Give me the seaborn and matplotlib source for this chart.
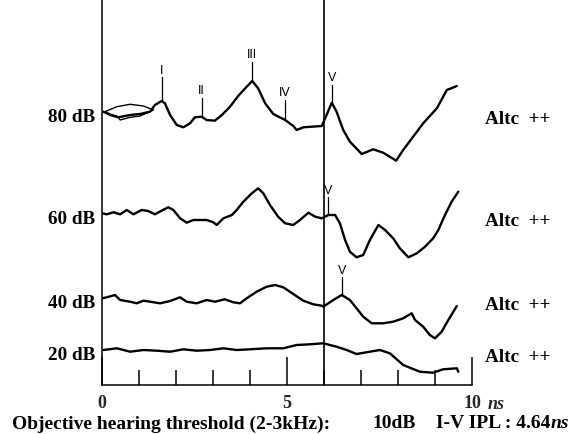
import numpy as np
import pandas as pd
import matplotlib
matplotlib.use("Agg")
import matplotlib.pyplot as plt
import seaborn as sns

# ---------------- data ----------------
# time in ns, amplitude in arbitrary display units relative to each trace baseline
t80 = [0.04, 0.22, 0.44, 0.76, 1.03, 1.30, 1.43, 1.61, 1.70, 1.84, 2.02, 2.20, 2.38, 2.51,
       2.69, 2.83, 3.05, 3.24, 3.46, 3.68, 3.91, 4.06, 4.22, 4.41, 4.63, 4.95, 5.17, 5.26,
       5.44, 5.67, 5.94, 6.07, 6.21, 6.34, 6.52, 6.70, 7.02, 7.33, 7.60, 7.95, 8.14, 8.41,
       8.68, 9.05, 9.32, 9.59]
a80 = [0.3, -3, -5.3, -3, -2, 0.3, 7, 11, 8.7, -3, -13, -15.3, -11.3, -5.3,
       -4.7, -8, -8.7, -3, 5.3, 16, 25.3, 31, 23.7, 8.7, -2, -8, -14, -18,
       -15.3, -14.7, -14, -3, 9.3, 0.3, -18, -29.7, -42, -37.3, -40.7, -48.7, -38, -24.7,
       -11.3, 3.7, 22, 26]
# replicate (superimposed) sweep at the start of the 80 dB trace
t80r = [0.08, 0.40, 0.76, 1.12, 1.39, 1.03, 0.76, 0.49, 0.44, 0.22, 0.08]
a80r = [0.3, 5.3, 7.7, 6, 2, -4, -5.3, -8, -4.7, -2, 0.3]

t60 = [0.00, 0.13, 0.31, 0.49, 0.67, 0.85, 1.07, 1.25, 1.43, 1.61, 1.79, 1.93, 2.11, 2.29,
       2.47, 2.83, 3.01, 3.10, 3.28, 3.51, 3.64, 3.82, 4.05, 4.22, 4.36, 4.54, 4.76, 4.95,
       5.17, 5.35, 5.58, 5.76, 5.94, 6.12, 6.30, 6.43, 6.57, 6.70, 6.88, 7.06, 7.24, 7.47,
       7.65, 7.87, 8.05, 8.28, 8.51, 8.73, 8.95, 9.09, 9.27, 9.45, 9.63]
a60 = [0.7, -0.3, 1.7, -0.3, 4, -0.3, 4, 3, -0.3, 3.3, 6.7, 4, -4.3, -8.7,
       -6, -6, -8.3, -11, -4.3, -1, 4, 12.3, 20.7, 25.7, 20.7, 9, -2.7, -9.3,
       -11, -6, 1.3, -2.7, -4.3, -1, -1, -9.3, -26, -37.7, -43.3, -41, -26, -11,
       -16, -24.3, -34.3, -43.3, -39.3, -32.7, -24.3, -16, -1, 12.3, 22.3]

t40 = [0.00, 0.13, 0.35, 0.49, 0.76, 0.94, 1.12, 1.30, 1.57, 1.84, 2.11, 2.29, 2.56, 2.83,
       3.05, 3.32, 3.55, 3.73, 3.91, 4.18, 4.45, 4.68, 4.90, 5.17, 5.44, 5.71, 5.94, 5.98,
       6.25, 6.48, 6.70, 6.88, 7.06, 7.29, 7.60, 7.87, 8.14, 8.37, 8.46, 8.68, 8.86, 9.00,
       9.18, 9.36, 9.59]
a40 = [-0.3, 0.7, 3, -2, -3.7, -5.3, -2.7, -3.7, -5.3, -3, 0.7, -3.7, -5.3, -2,
       -3.7, -1.3, -4.3, -5.3, -0.3, 6.3, 11.3, 13, 10.7, 4, -2.7, -6.3, -7.7, -8.7,
       -2, 3, -2, -10.3, -18.7, -25.3, -25.3, -23.7, -20.3, -15.3, -22, -28.7, -37, -40.3,
       -33.7, -22, -8]

t20 = [0.04, 0.40, 0.76, 1.12, 1.48, 1.84, 2.20, 2.56, 2.92, 3.28, 3.64, 4.00, 4.45, 4.90,
       5.26, 5.62, 5.98, 6.34, 6.61, 6.88, 7.24, 7.51, 7.78, 8.14, 8.59, 8.95, 9.22, 9.59, 9.63]
a20 = [0, 1.7, -1.7, 0, -0.7, -1.7, 0.7, -0.7, 0, 1.7, 0, 0.7, 1.7, 1.7,
       5, 5.7, 6.7, 3.3, 0, -4, -1.7, 0, -3.3, -15, -21.7, -22.7, -19.3, -18.3, -21.7]

levels = ["80 dB", "60 dB", "40 dB", "20 dB"]
stim_labels = ["Altc  ++", "Altc  ++", "Altc  ++", "Altc  ++"]

# wave labels (level, label, latency ns)
wave_level = ["80 dB", "80 dB", "80 dB", "80 dB", "80 dB", "60 dB", "40 dB"]
wave_names = ["I", "II", "III", "IV", "V", "V", "V"]
wave_lat = [1.61, 2.69, 4.06, 4.95, 6.21, 6.12, 6.48]

ref_latency = 6.0
xtick_major = [0, 5, 10]
xtick_minor = [1, 2, 3, 4, 6, 7, 8, 9]
xtick_labels = ["0", "5", "10"]
x_unit = "ns"
footer_parts = ["Objective hearing threshold (2-3kHz):", "10dB", "I-V IPL : 4.64", "ns"]

# ---------------- layout ----------------
baseline = {"80 dB": 273, "60 dB": 171, "40 dB": 87, "20 dB": 35}
tick_len = {"I": 24, "II": 19, "III": 19, "IV": 20, "V": 18}
footer_x = [12, 372, 436, None]

sns.set_theme(style="white")
serif = ["Liberation Serif", "DejaVu Serif"]
plt.rcParams["font.family"] = serif

fig = plt.figure(figsize=(5.77, 4.34), dpi=100)
ax = fig.add_axes([102 / 577, 49 / 434, 370 / 577, 385 / 434])

traces = {"80 dB": (t80, a80), "60 dB": (t60, a60), "40 dB": (t40, a40), "20 dB": (t20, a20)}
rows = []
for lev, (tt, aa) in traces.items():
    for t, a in zip(tt, aa):
        rows.append({"t": t, "v": a + baseline[lev], "level": lev})
df = pd.DataFrame(rows)
sns.lineplot(data=df, x="t", y="v", hue="level", palette=["black"] * 4, sort=False,
             estimator=None, linewidth=1.7, legend=False, ax=ax)
rep = pd.DataFrame({"t": t80r, "v": np.array(a80r) + baseline["80 dB"]})
sns.lineplot(data=rep, x="t", y="v", color="black", sort=False, estimator=None,
             linewidth=1.0, ax=ax)

ax.axvline(ref_latency, color="black", linewidth=1.2)

# wave markers
for lev, name, lat in zip(wave_level, wave_names, wave_lat):
    tt, aa = traces[lev]
    y0 = np.interp(lat, tt, aa) + baseline[lev]
    y1 = y0 + tick_len[name]
    ax.plot([lat, lat], [y0, y1], color="black", linewidth=0.9)
    ax.text(lat, y1 + 0.5, name, ha="center", va="bottom", fontsize=9,
            family=["Liberation Sans Narrow", "Liberation Sans", "DejaVu Sans"],
            color="black")

# level labels and stimulus labels
for lev, st in zip(levels, stim_labels):
    ax.text(-0.19, baseline[lev] - 6, lev, ha="right", va="center", fontsize=13.8,
            fontweight="bold", color="black")
    ax.text(10.35, baseline[lev] - 7, st, ha="left", va="center", fontsize=13.8,
            fontweight="bold", color="black")

ax.set_xlim(0, 10)
ax.set_ylim(0, 385)
ax.set_xlabel("")
ax.set_ylabel("")
ax.set_yticks([])
ax.set_xticks(xtick_major)
ax.set_xticks(xtick_minor, minor=True)
ax.set_xticklabels(xtick_labels, fontsize=13, fontweight="bold")
ax.tick_params(axis="x", which="major", direction="in", length=20, width=1.1,
               color="black", pad=7, bottom=True)
ax.tick_params(axis="x", which="minor", direction="in", length=11, width=1.1,
               color="black", bottom=True)
ax.xaxis.get_major_ticks()[2].tick1line.set_linewidth(2.2)
for s in ["top", "right"]:
    ax.spines[s].set_visible(False)
for s in ["left", "bottom"]:
    ax.spines[s].set_color("black")
    ax.spines[s].set_linewidth(1.1)
ax.patch.set_alpha(0)

ax.annotate(x_unit, xy=(10, 0), xycoords="data", xytext=(11, -14),
            textcoords="offset points", ha="left", va="center", fontsize=13,
            fontweight="bold", fontstyle="italic", annotation_clip=False)

# footer
r = fig.canvas.get_renderer()
prev = None
for part, px in zip(footer_parts, footer_x):
    italic = part == "ns"
    if px is None:
        bb = prev.get_window_extent(renderer=r)
        xf = bb.x1 / fig.bbox.width
    else:
        xf = px / 577
    prev = fig.text(xf, 10 / 434, part, ha="left", va="center", fontsize=14,
                    fontweight="bold", fontstyle="italic" if italic else "normal",
                    color="black")

fig.savefig("out.png", dpi=100)
